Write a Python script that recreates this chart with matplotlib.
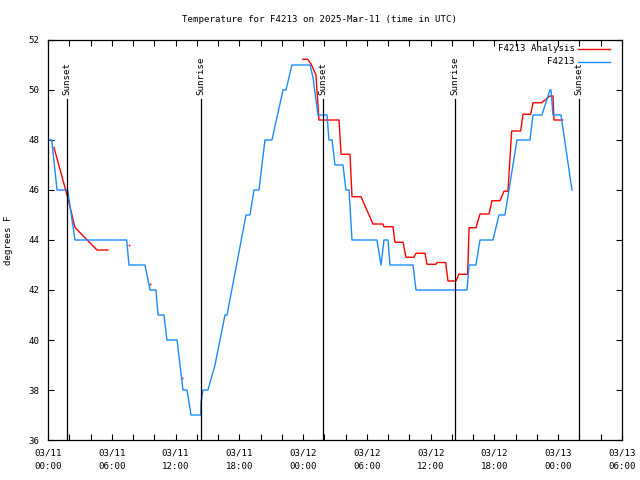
# Temperature for F4213, gnuplot-style chart redone in matplotlib

import numpy as np
import matplotlib
matplotlib.use("Agg")
import matplotlib.pyplot as plt

# hours since 03/11 00:00 UTC
obs_hours = [0, 0.35, 0.85, 1.85, 2.54, 7.40, 7.62, 9.12, 9.60, 10.16, 10.35, 10.91,
             11.19, 12.14, 12.70, 13.08, 13.45, 14.37, 14.39, 14.58, 15.05, 15.71,
             16.65, 16.84, 18.63, 19.00, 19.38, 19.85, 20.41, 21.07, 22.11, 22.39,
             22.95, 24.65, 24.93, 25.40, 26.25, 26.43, 26.72, 27.00, 27.75, 28.03,
             28.32, 28.60, 30.95, 31.33, 31.61, 31.99, 32.17, 34.34, 34.62, 39.42,
             39.61, 40.26, 40.64, 41.86, 42.43, 42.99, 44.12, 45.34, 45.63, 46.47,
             47.22, 47.32, 47.51, 48.26, 49.29]
obs_temp = [48, 48, 46, 46, 44, 44, 43, 43, 42, 42, 41, 41,
            40, 40, 38, 38, 37, 37, 37.5, 38, 38, 39,
            41, 41, 45, 45, 46, 46, 48, 48, 50, 50,
            51, 51, 50.5, 49, 49, 48, 48, 47, 47, 46,
            46, 44, 44, 43, 44, 44, 43, 43, 42, 42,
            43, 43, 44, 44, 45, 45, 48, 48, 49, 49,
            50, 50, 49, 49, 46]

ana_hours = [0.56, 1.79, 2.54, 4.61, 5.64, np.nan,
             23.96, 24.43, 24.74, 25.21, 25.49, 27.38, 27.57, 28.41, 28.60, 29.45,
             30.57, 31.51, 31.61, 32.46, 32.64, 33.40, 33.68, 34.43, 34.62, 35.47,
             35.65, 36.50, 36.60, 37.41, 37.63, 38.38, 38.66, 39.48, 39.61, 40.26,
             40.64, 41.49, 41.77, 42.52, 42.90, 43.27, 43.62, 44.47, 44.69, 45.41,
             45.63, 46.44, 47.22, 47.51, 47.60, 48.42]
ana_temp = [47.7, 45.8, 44.5, 43.6, 43.6, np.nan,
            51.23, 51.23, 51.05, 50.6, 48.8, 48.8, 47.43, 47.43, 45.73, 45.73,
            44.64, 44.64, 44.53, 44.53, 43.91, 43.91, 43.31, 43.31, 43.47, 43.47,
            43.03, 43.03, 43.1, 43.1, 42.36, 42.36, 42.63, 42.63, 44.49, 44.49,
            45.04, 45.04, 45.57, 45.57, 45.95, 45.95, 48.36, 48.36, 49.03, 49.03,
            49.49, 49.49, 49.76, 49.76, 48.8, 48.8]

# lone analysis points between gaps
dot_hours = [7.62, 9.60, 12.61]
dot_temp = [43.8, 42.24, 38.48]

sun_hours = [1.79, 14.36, 25.90, 38.32, 49.98]
sun_labels = ["Sunset", "Sunrise", "Sunset", "Sunrise", "Sunset"]

tick_hours = [0, 6, 12, 18, 24, 30, 36, 42, 48, 54]
tick_labels = ["03/11\n00:00", "03/11\n06:00", "03/11\n12:00", "03/11\n18:00",
               "03/12\n00:00", "03/12\n06:00", "03/12\n12:00", "03/12\n18:00",
               "03/13\n00:00", "03/13\n06:00"]

plt.rcParams['font.family'] = ['DejaVu Sans Mono']
fs = 6.6
red = '#ff0000'
blue = '#1a8cff'

fig = plt.figure(figsize=(6.4, 4.8), dpi=100)
ax = fig.add_axes([48/640, 40/480, 574/640, 400/480])

ax.plot(ana_hours, ana_temp, color=red, lw=1.0)
ax.plot(dot_hours, dot_temp, 's', color=red, ms=1.2, mew=0)
ax.plot(obs_hours, obs_temp, color=blue, lw=1.0)

for h, lab in zip(sun_hours, sun_labels):
    ax.plot([h, h], [36, 49.64], color='black', lw=0.9)
    ax.text(h, 49.8, lab, rotation=90, ha='center', va='bottom', fontsize=fs)

ax.set_xlim(0, 54)
ax.set_ylim(36, 52)
ax.set_xticks(tick_hours)
ax.set_xticklabels(tick_labels, fontsize=fs, linespacing=1.6)
ax.set_xticks(np.arange(0, 55, 2), minor=True)
ax.set_yticks(np.arange(36, 53, 2))
ax.tick_params(axis='y', labelsize=fs, pad=6)
ax.tick_params(which='both', direction='in', top=True, right=True, length=4, width=0.8)
ax.tick_params(axis='x', pad=6)
for s in ax.spines.values():
    s.set_linewidth(0.9)

ax.set_ylabel("degrees F", fontsize=fs, labelpad=11)
fig.text(0.5, 1 - 20/480, "Temperature for F4213 on 2025-Mar-11 (time in UTC)",
         ha='center', va='center', fontsize=fs)

# legend drawn by hand, gnuplot style (text right aligned, sample on the right)
ax.plot([0.923, 0.979], [0.9775, 0.9775], color=red, lw=1.0, transform=ax.transAxes)
ax.plot([0.923, 0.979], [0.945, 0.945], color=blue, lw=1.0, transform=ax.transAxes)
ax.text(0.918, 0.9775, "F4213 Analysis", ha='right', va='center', fontsize=fs, transform=ax.transAxes)
ax.text(0.918, 0.945, "F4213", ha='right', va='center', fontsize=fs, transform=ax.transAxes)

fig.savefig("out.png", dpi=100)
